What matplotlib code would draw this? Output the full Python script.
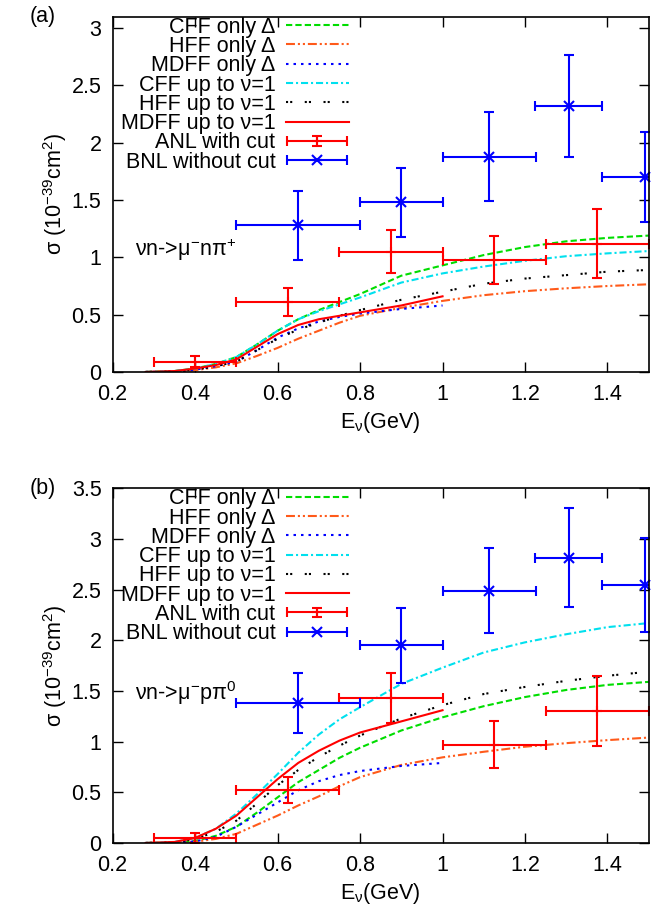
import matplotlib
matplotlib.use("Agg")
import matplotlib.pyplot as plt
from matplotlib.ticker import FuncFormatter, MultipleLocator
from matplotlib.legend_handler import HandlerErrorbar

plt.rcParams['font.family'] = ['Liberation Sans', 'DejaVu Sans']
plt.rcParams['mathtext.fontset'] = 'custom'
plt.rcParams['mathtext.rm'] = 'Liberation Sans'
plt.rcParams['mathtext.it'] = 'Liberation Sans'

# ---------------- data ----------------
E = [0.28, 0.35, 0.4, 0.45, 0.5, 0.55, 0.6, 0.65, 0.7, 0.75, 0.8, 0.9, 1.0, 1.1, 1.2, 1.3, 1.4, 1.5]
E_short = E[:13]

# panel (a): nu n -> mu- n pi+
a_cff_delta = [0, 0.008, 0.03, 0.07, 0.13, 0.24, 0.36, 0.46, 0.54, 0.61, 0.68, 0.84, 0.93, 1.02, 1.09, 1.14, 1.17, 1.19]
a_hff_delta = [0, 0.003, 0.015, 0.04, 0.075, 0.14, 0.21, 0.29, 0.36, 0.43, 0.49, 0.56, 0.62, 0.67, 0.705, 0.73, 0.75, 0.765]
a_mdff_delta = [0, 0.005, 0.02, 0.05, 0.09, 0.19, 0.30, 0.38, 0.44, 0.48, 0.51, 0.55, 0.58]
a_cff_nu1 = [0, 0.008, 0.03, 0.07, 0.13, 0.24, 0.36, 0.46, 0.53, 0.59, 0.65, 0.78, 0.86, 0.92, 0.97, 1.01, 1.035, 1.055]
a_hff_nu1 = [0, 0.005, 0.02, 0.05, 0.09, 0.19, 0.29, 0.37, 0.43, 0.49, 0.54, 0.63, 0.70, 0.77, 0.815, 0.845, 0.875, 0.89]
a_mdff_nu1 = [0, 0.008, 0.03, 0.06, 0.11, 0.22, 0.33, 0.41, 0.46, 0.49, 0.52, 0.58, 0.66]

# panel (b): nu n -> mu- p pi0
b_cff_delta = [0, 0.004, 0.02, 0.07, 0.16, 0.30, 0.45, 0.60, 0.72, 0.84, 0.94, 1.11, 1.24, 1.35, 1.44, 1.51, 1.56, 1.59]
b_hff_delta = [0, 0.003, 0.012, 0.04, 0.09, 0.18, 0.27, 0.37, 0.46, 0.56, 0.65, 0.77, 0.845, 0.90, 0.95, 0.985, 1.015, 1.04]
b_mdff_delta = [0, 0.003, 0.015, 0.06, 0.16, 0.28, 0.40, 0.52, 0.61, 0.67, 0.71, 0.76, 0.79]
b_cff_nu1 = [0, 0.01, 0.05, 0.14, 0.29, 0.48, 0.68, 0.89, 1.07, 1.22, 1.34, 1.57, 1.73, 1.88, 1.98, 2.06, 2.13, 2.17]
b_hff_nu1 = [0, 0.008, 0.04, 0.11, 0.22, 0.39, 0.57, 0.72, 0.85, 0.96, 1.06, 1.23, 1.36, 1.47, 1.54, 1.60, 1.65, 1.69]
b_mdff_nu1 = [0, 0.01, 0.05, 0.14, 0.27, 0.45, 0.63, 0.79, 0.91, 1.01, 1.09, 1.20, 1.31]

# ANL data (with cut)
anl_E = [0.4, 0.625, 0.875, 1.125, 1.375]
anl_Eerr = [0.1, 0.125, 0.125, 0.125, 0.125]
a_anl = [0.09, 0.61, 1.05, 0.98, 1.12]
a_anl_err = [0.05, 0.12, 0.19, 0.21, 0.30]
b_anl = [0.053, 0.52, 1.43, 0.97, 1.30]
b_anl_err = [0.05, 0.13, 0.25, 0.23, 0.345]

# BNL data (without cut)
bnl_E = [0.65, 0.9, 1.113, 1.307, 1.49]
bnl_Elo = [0.15, 0.1, 0.113, 0.082, 0.103]
bnl_Ehi = [0.15, 0.1, 0.113, 0.08, 0.103]
a_bnl = [1.28, 1.48, 1.88, 2.32, 1.70]
a_bnl_err = [0.30, 0.30, 0.39, 0.445, 0.39]
b_bnl = [1.385, 1.95, 2.49, 2.815, 2.545]
b_bnl_err = [0.295, 0.37, 0.42, 0.49, 0.465]

labels = ["CFF only \u0394", "HFF only \u0394", "MDFF only \u0394", "CFF up to \u03bd=1",
          "HFF up to \u03bd=1", "MDFF up to \u03bd=1", "ANL with cut", "BNL without cut"]
xticks = [0.2, 0.4, 0.6, 0.8, 1.0, 1.2, 1.4]

# ---------------- styles ----------------
C_GREEN = '#00dd00'
C_ORANGE = '#ff5a1a'
C_BLUE = '#0000ff'
C_CYAN = '#00e0ee'
C_BLACK = '#000000'
C_RED = '#ff0000'
LW = 1.5
FS = 15.5

fig = plt.figure(figsize=(6.62, 9.07), dpi=100)
ax_a = fig.add_axes([0.1702, 0.5899, 0.8097, 0.3917])
ax_b = fig.add_axes([0.1702, 0.0706, 0.8097, 0.3910])

fmt = FuncFormatter(lambda v, p: '%g' % round(v, 3))


def panel(ax, cffd, hffd, mdffd, cffn, hffn, mdffn, anl, anl_err, bnl, bnl_err, ymax, ystep, reaction, ytext, tag):
    h1, = ax.plot(E, cffd, color=C_GREEN, lw=LW, ls=(0, (3, 1.5)))
    h2, = ax.plot(E, hffd, color=C_ORANGE, lw=LW, ls=(0, (4.3, 1.4, 1, 1.4, 1, 1.4)))
    h3, = ax.plot(E_short, mdffd, color=C_BLUE, lw=LW, ls=(0, (1.2, 2.4)))
    h4, = ax.plot(E, cffn, color=C_CYAN, lw=LW, ls=(0, (3.4, 1.4, 1, 1.4)))
    h5, = ax.plot(E, hffn, color=C_BLACK, lw=LW, ls=(0, (1, 1, 1, 6)))
    h6, = ax.plot(E_short, mdffn, color=C_RED, lw=LW, ls='-')
    h7 = ax.errorbar(anl_E, anl, xerr=anl_Eerr, yerr=anl_err, fmt='+', color=C_RED,
                     ms=7, mew=LW, elinewidth=LW, capsize=3.5, capthick=LW, clip_on=False)
    h8 = ax.errorbar(bnl_E, bnl, xerr=[bnl_Elo, bnl_Ehi], yerr=bnl_err, fmt='x', color=C_BLUE,
                     ms=7, mew=LW, elinewidth=LW, capsize=3.5, capthick=LW, clip_on=False)
    for art in h7.lines[1] + h7.lines[2] + h8.lines[1] + h8.lines[2]:
        art.set_clip_on(True)
    ax.set_xlim(0.2, 1.5)
    ax.set_ylim(0, ymax)
    ax.set_xticks(xticks)
    ax.yaxis.set_major_locator(MultipleLocator(ystep))
    ax.xaxis.set_major_formatter(fmt)
    ax.yaxis.set_major_formatter(fmt)
    ax.tick_params(direction='in', length=7, width=1, top=True, right=True, labelsize=FS)
    ax.tick_params(axis='y', pad=8)
    ax.tick_params(axis='x', pad=9)
    for s in ax.spines.values():
        s.set_linewidth(1.2)
    ax.set_xlabel('E$_\\nu$(GeV)', fontsize=FS, labelpad=3)
    ax.set_ylabel('\u03c3 (10$^{-39}$cm$^2$)', fontsize=FS, labelpad=2)
    ax.text(0.255, ytext, reaction, fontsize=FS, ha='left', va='center')
    ax.text(-0.155, 1.0, tag, transform=ax.transAxes, fontsize=FS, ha='left', va='center')
    leg = ax.legend([h1, h2, h3, h4, h5, h6, h7, h8], labels, loc='upper right',
                    bbox_to_anchor=(0.44, 1.0), markerfirst=False, frameon=False,
                    fontsize=FS, handlelength=2.9, handletextpad=0.5, labelspacing=-0.08,
                    borderpad=0.0, borderaxespad=0.0,
                    handler_map={h7: HandlerErrorbar(xerr_size=1.4, yerr_size=0.22),
                                 h8: HandlerErrorbar(xerr_size=1.4, yerr_size=0.0)})
    return leg


panel(ax_a, a_cff_delta, a_hff_delta, a_mdff_delta, a_cff_nu1, a_hff_nu1, a_mdff_nu1,
      a_anl, a_anl_err, a_bnl, a_bnl_err, 3.1, 0.5,
      '\u03bdn->\u03bc$^{-}$n\u03c0$^{+}$', 1.07, '(a)')
panel(ax_b, b_cff_delta, b_hff_delta, b_mdff_delta, b_cff_nu1, b_hff_nu1, b_mdff_nu1,
      b_anl, b_anl_err, b_bnl, b_bnl_err, 3.5, 0.5,
      '\u03bdn->\u03bc$^{-}$p\u03c0$^{0}$', 1.48, '(b)')

fig.savefig('out.png', dpi=100)
